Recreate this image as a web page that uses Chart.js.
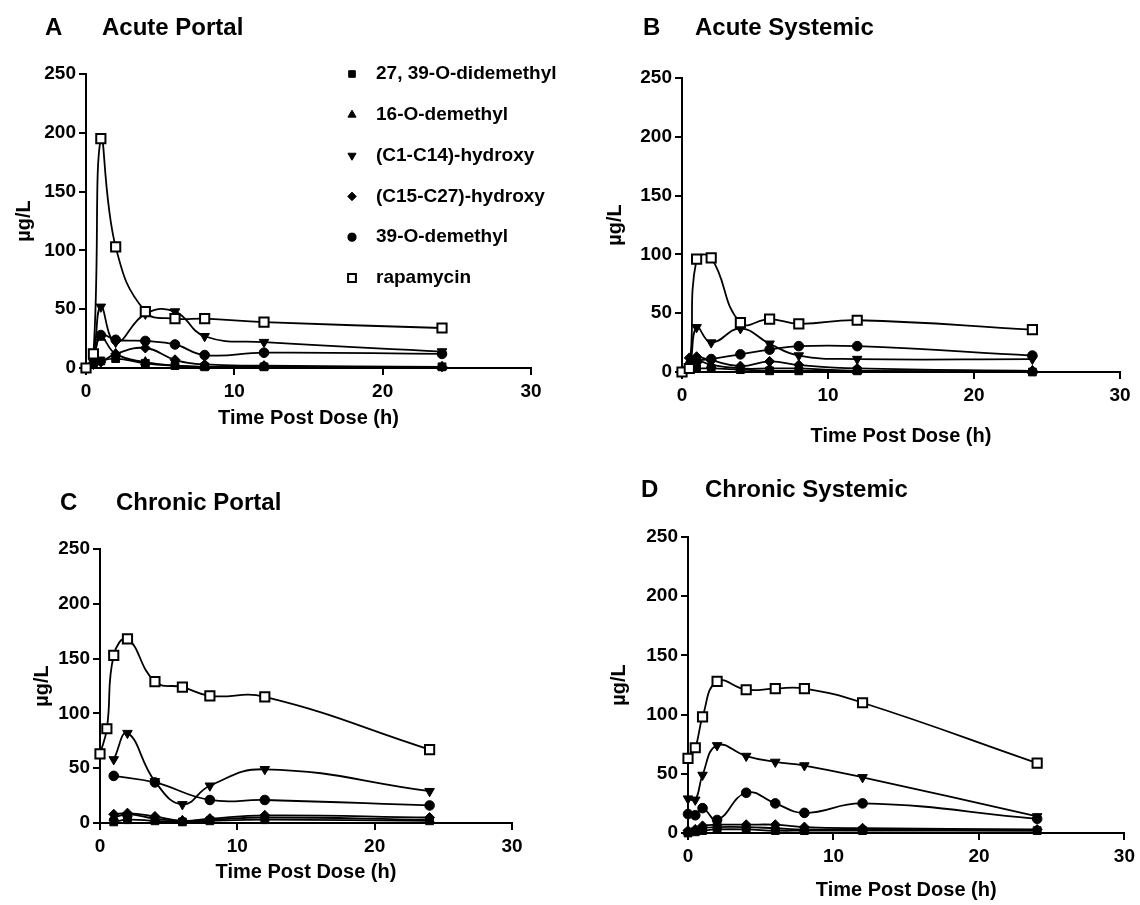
<!DOCTYPE html>
<html>
<head>
<meta charset="utf-8">
<script src="https://cdn.jsdelivr.net/npm/chart.js@4.4.0/dist/chart.umd.min.js"></script>
<style>
  html, body { margin: 0; padding: 0; background: #fff; }
  #wrap { position: relative; width: 1140px; height: 905px; }
  canvas { position: absolute; }
</style>
</head>
<body>
<div id="wrap">
  <canvas id="panelA" width="570" height="450" style="left:0;top:0"></canvas>
  <canvas id="panelB" width="570" height="450" style="left:570px;top:0"></canvas>
  <canvas id="panelC" width="570" height="455" style="left:0;top:450px"></canvas>
  <canvas id="panelD" width="570" height="455" style="left:570px;top:450px"></canvas>
</div>
<script>
// Datos comunes
const times = [0, 0.5, 1, 2, 4, 6, 8, 12, 24];
const seriesNames = ['27, 39-O-didemethyl', '16-O-demethyl', '(C1-C14)-hydroxy', '(C15-C27)-hydroxy', '39-O-demethyl', 'rapamycin'];
const yTicks = [0, 50, 100, 150, 200, 250];
const xTicks = [0, 10, 20, 30];

// A - Acute Portal
const apDidemethyl = [0, 3, 6, 8, 4, 2, 1, 1, 1];
const apDemethyl16 = [0, 10, 26, 12, 5, 2, 1, 1, 1];
const apHydroxyC1 = [0, 12, 52, 22, 46, 48, 27, 22, 14];
const apHydroxyC15 = [0, 3, 5, 12, 17, 7, 3, 2, 1];
const apDemethyl39 = [0, 8, 28, 24, 23, 20, 11, 13, 12];
const apRapamycin = [0, 12, 195, 103, 48, 42, 42, 39, 34];

// B - Acute Systemic
const asDidemethyl = [0, 2, 3, 3, 2, 1, 1, 1, 0];
const asDemethyl16 = [0, 8, 10, 6, 3, 3, 3, 1, 1];
const asHydroxyC1 = [0, 4, 38, 25, 37, 24, 14, 11, 11];
const asHydroxyC15 = [0, 12, 13, 10, 5, 9, 6, 3, 1];
const asDemethyl39 = [0, 4, 9, 11, 15, 19, 22, 22, 14];
const asRapamycin = [0, 3, 96, 97, 42, 45, 41, 44, 36];

// C - Chronic Portal
const cpDidemethyl = [null, null, 1, 3, 2, 1, 2, 3, 2];
const cpDemethyl16 = [null, null, 5, 8, 4, 2, 3, 5, 3];
const cpHydroxyC1 = [null, null, 58, 82, 38, 17, 34, 49, 29];
const cpHydroxyC15 = [null, null, 8, 9, 6, 2, 4, 7, 5];
const cpDemethyl39 = [null, null, 43, null, 37, null, 21, 21, 16];
const cpRapamycin = [63, 86, 153, 168, 129, 124, 116, 115, 67];

// D - Chronic Systemic
const csDidemethyl = [0, 1, 2, 3, 3, 2, 2, 2, 2];
const csDemethyl16 = [1, 2, 4, 5, 5, 4, 3, 3, 2];
const csHydroxyC1 = [29, 28, 49, 74, 65, 60, 57, 47, 14];
const csHydroxyC15 = [2, 3, 6, 7, 7, 7, 5, 4, 3];
const csDemethyl39 = [16, 15, 21, 11, 34, 25, 17, 25, 12];
const csRapamycin = [63, 72, 98, 128, 121, 122, 122, 110, 59];

// Estilo de marcadores por serie
const markers = [
    { pointStyle: 'rect', rotation: 0, radius: 5.5, fill: '#000', border: 1 },
    { pointStyle: 'triangle', rotation: 0, radius: 5.5, fill: '#000', border: 1 },
    { pointStyle: 'triangle', rotation: 180, radius: 5.5, fill: '#000', border: 1 },
    { pointStyle: 'rectRot', rotation: 0, radius: 5, fill: '#000', border: 1 },
    { pointStyle: 'circle', rotation: 0, radius: 4.8, fill: '#000', border: 1 },
    { pointStyle: 'rect', rotation: 0, radius: 6.5, fill: '#fff', border: 2 }
];

const FONT = "'Liberation Sans', Arial, sans-serif";
Chart.defaults.font.family = FONT;
Chart.defaults.color = '#000';

// Titulos de panel y leyenda
const panelDecor = {
    id: 'panelDecor',
    afterDraw(chart, args, opts) {
        const ctx = chart.ctx;
        ctx.save();
        ctx.fillStyle = '#000';
        ctx.textBaseline = 'middle';
        ctx.font = `bold 24px ${FONT}`;
        ctx.fillText(opts.letter, opts.letterX, opts.titleY);
        ctx.fillText(opts.title, opts.titleX, opts.titleY);
        if (opts.legend) {
            const lg = opts.legend;
            ctx.font = `bold 19px ${FONT}`;
            seriesNames.forEach((name, i) => {
                const m = markers[i];
                const y = lg.y + i * lg.step;
                ctx.fillStyle = m.fill;
                ctx.strokeStyle = '#000';
                ctx.lineWidth = m.border;
                Chart.helpers.drawPoint(ctx, {
                    pointStyle: m.pointStyle,
                    rotation: m.rotation,
                    radius: m.radius * 0.85,
                    borderWidth: m.border
                }, lg.markerX, y);
                ctx.fillStyle = '#000';
                ctx.fillText(name, lg.textX, y);
            });
        }
        ctx.restore();
    }
};

function makeDatasets(seriesValues) {
    return seriesValues.map((values, i) => ({
        label: seriesNames[i],
        data: times.map((t, k) => ({ x: t, y: values[k] })),
        borderColor: '#000',
        borderWidth: 1.8,
        tension: 0.45,
        spanGaps: true,
        clip: false,
        pointStyle: markers[i].pointStyle,
        rotation: markers[i].rotation,
        pointRadius: markers[i].radius,
        pointBackgroundColor: markers[i].fill,
        pointBorderColor: '#000',
        pointBorderWidth: markers[i].border,
        order: i === 5 ? 0 : 1
    }));
}

function makePanel(id, seriesValues, box, decor) {
    const axisGrid = { display: true, drawOnChartArea: false, drawTicks: true, tickLength: 7, color: '#000', lineWidth: 2 };
    const axisBorder = { display: true, color: '#000', width: 2 };
    new Chart(document.getElementById(id), {
        type: 'line',
        data: { datasets: makeDatasets(seriesValues) },
        options: {
            responsive: false,
            animation: false,
            devicePixelRatio: 1,
            layout: { padding: { left: 0, top: box.top, right: box.right, bottom: 0 } },
            plugins: {
                legend: { display: false },
                tooltip: { enabled: false },
                panelDecor: decor
            },
            scales: {
                x: {
                    type: 'linear',
                    min: 0,
                    max: 30,
                    grid: axisGrid,
                    border: axisBorder,
                    afterBuildTicks: scale => { scale.ticks = xTicks.map(v => ({ value: v })); },
                    afterFit: scale => { scale.height = box.xHeight; },
                    ticks: { font: { size: 19, weight: 'bold' }, padding: 5, maxRotation: 0 },
                    title: {
                        display: true,
                        text: 'Time Post Dose (h)',
                        font: { size: 20, weight: 'bold' },
                        padding: { top: 0, bottom: box.xTitlePad }
                    }
                },
                y: {
                    type: 'linear',
                    min: 0,
                    max: 250,
                    grid: axisGrid,
                    border: axisBorder,
                    afterBuildTicks: scale => { scale.ticks = yTicks.map(v => ({ value: v })); },
                    afterFit: scale => { scale.width = box.yWidth; },
                    ticks: { font: { size: 19, weight: 'bold' }, padding: 3 },
                    title: {
                        display: true,
                        text: 'µg/L',
                        font: { size: 20, weight: 'bold' },
                        padding: { top: box.yTitlePad, bottom: 0 }
                    }
                }
            }
        },
        plugins: [panelDecor]
    });
}

makePanel('panelA',
    [apDidemethyl, apDemethyl16, apHydroxyC1, apHydroxyC15, apDemethyl39, apRapamycin],
    { top: 74, right: 39, xHeight: 82, yWidth: 86, xTitlePad: 20, yTitlePad: 12 },
    { letter: 'A', letterX: 45, title: 'Acute Portal', titleX: 102, titleY: 28,
      legend: { markerX: 352, textX: 376, y: 74, step: 40.8 } });

makePanel('panelB',
    [asDidemethyl, asDemethyl16, asHydroxyC1, asHydroxyC15, asDemethyl39, asRapamycin],
    { top: 78, right: 20, xHeight: 78, yWidth: 112, xTitlePad: 2, yTitlePad: 33 },
    { letter: 'B', letterX: 73, title: 'Acute Systemic', titleX: 125, titleY: 28 });

makePanel('panelC',
    [cpDidemethyl, cpDemethyl16, cpHydroxyC1, cpHydroxyC15, cpDemethyl39, cpRapamycin],
    { top: 99, right: 58, xHeight: 82, yWidth: 100, xTitlePad: 21, yTitlePad: 30 },
    { letter: 'C', letterX: 60, title: 'Chronic Portal', titleX: 116, titleY: 53 });

makePanel('panelD',
    [csDidemethyl, csDemethyl16, csHydroxyC1, csHydroxyC15, csDemethyl39, csRapamycin],
    { top: 87, right: 15, xHeight: 72, yWidth: 118, xTitlePad: 3, yTitlePad: 37 },
    { letter: 'D', letterX: 71, title: 'Chronic Systemic', titleX: 135, titleY: 40 });
</script>
</body>
</html>
